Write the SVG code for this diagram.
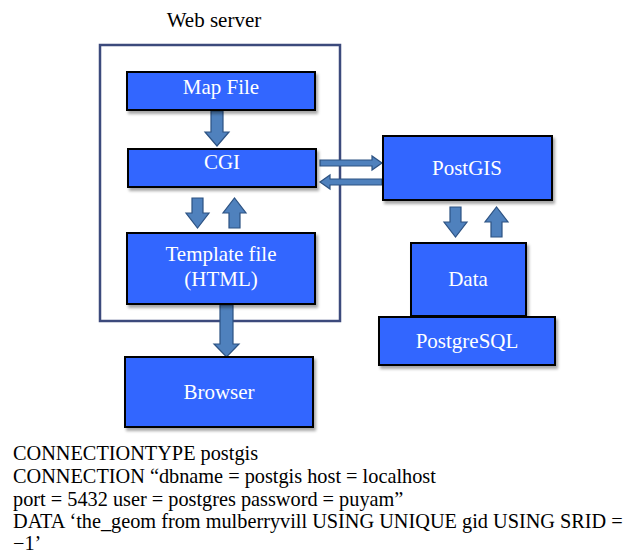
<svg xmlns="http://www.w3.org/2000/svg" width="640" height="553" viewBox="0 0 640 553">
<defs>
<filter id="sh" x="-10%" y="-10%" width="130%" height="140%">
<feGaussianBlur in="SourceAlpha" stdDeviation="1.5"/>
<feOffset dx="2" dy="3" result="b"/>
<feComponentTransfer><feFuncA type="linear" slope="0.35"/></feComponentTransfer>
<feMerge><feMergeNode/><feMergeNode in="SourceGraphic"/></feMerge>
</filter>
</defs>
<style>
.box{fill:#3366ff;stroke:#000;stroke-width:2;filter:url(#sh)}
.lbl{font-size:21px;fill:#fff;text-anchor:middle}
.arr{fill:#4f81bd;stroke:#2c5282;stroke-width:1.2}
.txt{font-size:20.3px;fill:#000}
</style>
<rect width="640" height="553" fill="#fff"/>
<g id="webserver" font-family="'Liberation Serif', 'Times New Roman', serif">
<rect x="100" y="45" width="240" height="276" fill="none" stroke="#3c4a7c" stroke-width="2.5"/>
<text x="214" y="27" font-size="21" text-anchor="middle" fill="#000">Web server</text>
</g>
<g id="connectors">
<path class="arr" d="M211,111 H223 V132 H229 L217,146 L205,132 H211 Z"/>
<path class="arr" d="M192,198 H203 V213 H209 L197.5,228 L186,213 H192 Z"/>
<path class="arr" d="M229,228 H240 V213 H246 L234.5,198 L223,213 H229 Z"/>
<path class="arr" d="M320,160 H372 V156 L382,163 L372,170 V166 H320 Z"/>
<path class="arr" d="M382,179 H330 V175 L320,182 L330,189 V185 H382 Z"/>
<path class="arr" d="M450,207 H461 V222 H467 L455.5,237 L444,222 H450 Z"/>
<path class="arr" d="M491,237 H502 V222 H508 L496.5,207 L485,222 H491 Z"/>
<path class="arr" d="M220,305 H233 V344 H239 L226.5,357 L214,344 H220 Z"/>
</g>
<g font-family="'Liberation Serif', 'Times New Roman', serif">
<g id="mapfile">
<rect class="box" x="127" y="72" width="188" height="38"/>
<text class="lbl" x="221" y="94">Map File</text>
</g>
<g id="cgi">
<rect class="box" x="128" y="149" width="188" height="38"/>
<text class="lbl" x="222" y="169">CGI</text>
</g>
<g id="template">
<rect class="box" x="127" y="233" width="188" height="71"/>
<text class="lbl" x="221" y="261">Template file</text>
<text class="lbl" x="221" y="286">(HTML)</text>
</g>
<g id="browser">
<rect class="box" x="125" y="357" width="188" height="70"/>
<text class="lbl" x="219" y="399">Browser</text>
</g>
<g id="postgis">
<rect class="box" x="383" y="136" width="169" height="64"/>
<text class="lbl" x="467" y="175">PostGIS</text>
</g>
<g id="data">
<rect class="box" x="411" y="243" width="115" height="73"/>
<text class="lbl" x="468" y="286">Data</text>
</g>
<g id="postgresql">
<rect class="box" x="379" y="317" width="176" height="48"/>
<text class="lbl" x="467" y="348">PostgreSQL</text>
</g>
</g>
<g id="config" font-family="'Liberation Serif', 'Times New Roman', serif">
<text class="txt" x="13" y="460">CONNECTIONTYPE postgis</text>
<text class="txt" x="13" y="483">CONNECTION “dbname = postgis host = localhost</text>
<text class="txt" x="13" y="506">port = 5432 user = postgres password = puyam”</text>
<text class="txt" x="13" y="528">DATA ‘the_geom from mulberryvill USING UNIQUE gid USING SRID =</text>
<text class="txt" x="13" y="550">−1’</text>
</g>
</svg>
